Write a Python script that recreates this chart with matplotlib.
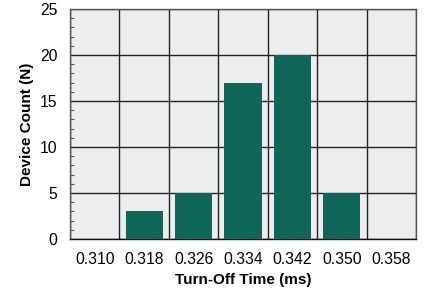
import numpy as np
import matplotlib.pyplot as plt
from matplotlib.ticker import MultipleLocator, FixedLocator

plt.rcParams['font.family'] = ['Liberation Sans', 'DejaVu Sans']

bins = ['0.310', '0.318', '0.326', '0.334', '0.342', '0.350', '0.358']
counts = [0, 3, 5, 17, 20, 5, 0]

fig = plt.figure(figsize=(4.24, 2.92), dpi=100)
ax = fig.add_axes([70 / 424, 1 - 239 / 292, 346 / 424, 230 / 292])
ax.set_facecolor('#ecedef')

x = np.arange(len(bins))
ax.bar(x, counts, width=0.75, color='#11665a', zorder=3)

ax.set_xlim(-0.5, len(bins) - 0.5)
ax.set_ylim(0, 25)
ax.set_xticks(x)
ax.set_xticklabels(bins, fontsize=11.3)
ax.xaxis.set_minor_locator(FixedLocator(np.arange(-0.5, len(bins), 1)))
ax.yaxis.set_major_locator(MultipleLocator(5))
ax.yaxis.set_minor_locator(MultipleLocator(1))
ax.tick_params(axis='x', which='major', length=0, pad=9)
ax.tick_params(axis='x', which='minor', length=0)
ax.tick_params(axis='y', which='major', length=0, labelsize=11.3, pad=9)
ax.tick_params(axis='y', which='minor', direction='in', length=3, width=0.8, color='#555555')

ax.grid(True, which='major', axis='y', color='#222222', linewidth=1.0, zorder=1)
ax.grid(True, which='minor', axis='x', color='#222222', linewidth=1.0, zorder=1)

for s in ax.spines.values():
    s.set_color('#555555')
    s.set_linewidth(1.0)
ax.spines['bottom'].set_color('#111111')

ax.set_xlabel('Turn-Off Time (ms)', fontsize=11, fontweight='bold', labelpad=5)
ax.set_ylabel('Device Count (N)', fontsize=11, fontweight='bold', labelpad=4)

fig.savefig('out.png', dpi=100)
